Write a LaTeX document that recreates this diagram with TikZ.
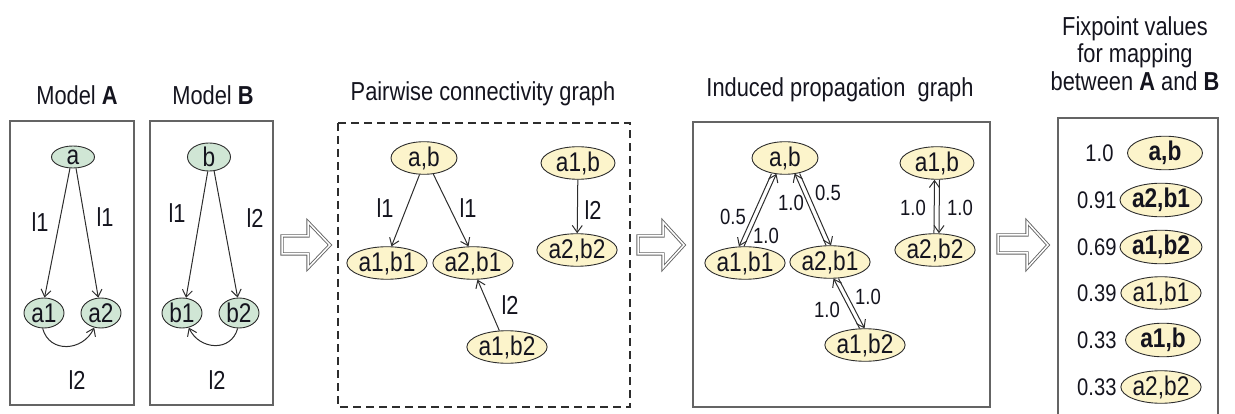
\documentclass[tikz,border=0pt]{standalone}
\usepackage{fontspec}
\setmainfont[FakeStretch=0.84]{Liberation Sans}
\usetikzlibrary{arrows.meta,shapes.geometric}

\definecolor{nodegreen}{RGB}{208,230,213}
\definecolor{nodecream}{RGB}{252,244,203}
\definecolor{framegray}{RGB}{100,100,100}
\definecolor{inkgray}{RGB}{45,45,45}
\definecolor{textink}{RGB}{20,20,30}

\newcommand{\fs}[1]{\fontsize{#1}{#1}\selectfont}

\tikzset{
  x=1pt, y=-1pt,
  frame/.style={draw=framegray, line width=1.3pt},
  dashframe/.style={draw=inkgray, line width=1.3pt, dash pattern=on 8pt off 5pt},
  title/.style={font=\fs{26}, text=textink, anchor=base},
  gnode/.style={ellipse, draw=inkgray, line width=0.9pt, fill=nodegreen,
    inner sep=0pt, minimum width=40pt, minimum height=30pt, font=\fs{27}, text=textink},
  gtop/.style={gnode, minimum width=43pt, minimum height=22pt},
  ynode/.style={ellipse, draw=inkgray, line width=0.9pt, fill=nodecream,
    inner sep=0pt, minimum width=74pt, minimum height=28pt, font=\fs{27}, text=textink},
  ytop/.style={ynode, minimum width=66pt, minimum height=30pt},
  fnode/.style={ellipse, draw=inkgray, line width=0.9pt, fill=nodecream,
    inner sep=0pt, minimum width=75pt, minimum height=24pt, font=\fs{27}, text=textink},
  edge/.style={draw=inkgray, line width=1pt,
    -{Straight Barb[length=7pt,width=10pt]}},
  elabel/.style={font=\fs{26}, text=textink},
  wlabel/.style={font=\fs{22}, text=textink},
  value/.style={font=\fs{24}, text=textink, anchor=east},
  leftlane/.style={transform canvas={xshift=-2.5pt}},
  rightlane/.style={transform canvas={xshift=2.5pt}},
  blockarrow/.style={draw=framegray, line width=0.9pt, double=white,
    double distance=1.5pt, line join=miter},
}

\begin{document}
\begin{tikzpicture}
\useasboundingbox (0,0) rectangle (1235,414);

% ---------- Model A ----------
\node[title] (tA) at (77,105) {Model \textbf{A}};
\draw[frame] (10,121) rectangle (134,405);
\node[gtop] (a)  at (73,157) {a};
\node[gnode] (a1) at (44,313) {a1};
\node[gnode] (a2) at (101,313) {a2};
\draw[edge] (a.-105) -- (a1.88);
\draw[edge] (a.-75) -- (a2.100);
\draw[edge] (a1.-95) to[out=-75,in=-115,looseness=1.3] (a2.-115);
\node[elabel] (lA1) at (40,222) {l1};
\node[elabel] (lA2) at (105,217) {l1};
\node[elabel] (lA3) at (77,380) {l2};

% ---------- Model B ----------
\node[title] (tB) at (213,105) {Model \textbf{B}};
\draw[frame] (150,121) rectangle (273,405);
\node[gtop] (b)  at (209,157) {b};
\node[gnode] (b1) at (182,313) {b1};
\node[gnode] (b2) at (239,313) {b2};
\draw[edge] (b.-95) -- (b1.75);
\draw[edge] (b.-70) -- (b2.95);
\draw[edge] (b2.-95) to[out=-105,in=-65,looseness=1.3] (b1.-65);
\node[elabel] (lB1) at (177,213) {l1};
\node[elabel] (lB2) at (255,218) {l2};
\node[elabel] (lB3) at (217,380) {l2};

% ---------- block arrows ----------
\draw[blockarrow] (282,236) -- (308,236) -- (308,222) -- (330,245)
  -- (308,268) -- (308,254) -- (282,254) -- cycle;
\draw[blockarrow] (638,236) -- (663,236) -- (663,222) -- (684,245)
  -- (663,268) -- (663,254) -- (638,254) -- cycle;
\draw[blockarrow] (998,235) -- (1027,235) -- (1027,222) -- (1048,245)
  -- (1027,268) -- (1027,253) -- (998,253) -- cycle;

% ---------- Pairwise connectivity graph ----------
\node[title] (tP) at (483,101) {Pairwise connectivity graph};
\draw[dashframe] (338,123) rectangle (630,407);
\node[ytop]  (pab)   at (424,158) {a,b};
\node[ynode] (pa1b1) at (387,263) {a1,b1};
\node[ynode] (pa2b1) at (473,263) {a2,b1};
\node[ynode] (pa1b2) at (507,347) {a1,b2};
\node[ynode] (pa1b)  at (578,163) {a1,b};
\node[ynode] (pa2b2) at (577,250) {a2,b2};
\draw[edge] (pab.-105) -- (pa1b1.75);
\draw[edge] (pab.-60) -- (pa2b1.105);
\draw[edge] (pa1b2.115) -- (pa2b1.-75);
\draw[edge] (pa1b) -- (pa2b2);
\node[elabel] (lP1) at (385,208) {l1};
\node[elabel] (lP2) at (468,208) {l1};
\node[elabel] (lP3) at (593,210) {l2};
\node[elabel] (lP4) at (510,305) {l2};

% ---------- Induced propagation graph ----------
\node[title] (tI) at (840,97) {Induced propagation\ \ graph};
\draw[frame] (693,122) rectangle (990,407);
\node[ytop]  (iab)   at (785,158) {a,b};
\node[ynode] (ia1b1) at (745,263) {a1,b1};
\node[ynode] (ia2b1) at (830,262) {a2,b1};
\node[ynode] (ia1b2) at (865,345) {a1,b2};
\node[ynode] (ia1b)  at (937,163) {a1,b};
\node[ynode] (ia2b2) at (935,250) {a2,b2};
\draw[edge, leftlane]  (iab.-125) -- (ia1b1.102);
\draw[edge, rightlane] (ia1b1.102) -- (iab.-125);
\draw[edge, leftlane]  (ia2b1.95) -- (iab.-52);
\draw[edge, rightlane] (iab.-52) -- (ia2b1.95);
\draw[edge, leftlane]  (ia1b2.100) -- (ia2b1.-70);
\draw[edge, rightlane] (ia2b1.-70) -- (ia1b2.100);
\draw[edge, leftlane]  (ia2b2.85) -- (ia1b.-90);
\draw[edge, rightlane] (ia1b.-90) -- (ia2b2.85);
\node[wlabel] (w1) at (733,217) {0.5};
\node[wlabel] (w2) at (766,236) {1.0};
\node[wlabel] (w3) at (791,203) {1.0};
\node[wlabel] (w4) at (828,193) {0.5};
\node[wlabel] (w5) at (827,310) {1.0};
\node[wlabel] (w6) at (868,297) {1.0};
\node[wlabel] (w7) at (913,208) {1.0};
\node[wlabel] (w8) at (960,208) {1.0};

% ---------- Fixpoint values ----------
\node[title] (tF1) at (1135,36) {Fixpoint values};
\node[title] (tF2) at (1135,63) {for mapping};
\node[title] (tF3) at (1135,91) {between \textbf{A} and \textbf{B}};
\draw[frame] (1058,416) -- (1058,118) -- (1218,118) -- (1218,416);
\node[fnode] (fab)   at (1165,153) {\textbf{a,b}};
\node[fnode] (fa2b1) at (1161,200) {\textbf{a2,b1}};
\node[fnode] (fa1b2) at (1161,247) {\textbf{a1,b2}};
\node[fnode] (fa1b1) at (1161,293) {a1,b1};
\node[fnode] (fa1b)  at (1163,340) {\textbf{a1,b}};
\node[fnode] (fa2b2) at (1161,387) {a2,b2};
\node[value] (v1) at (1117,153) {1.0};
\node[value] (v2) at (1120,200) {0.91};
\node[value] (v3) at (1120,247) {0.69};
\node[value] (v4) at (1120,293) {0.39};
\node[value] (v5) at (1120,340) {0.33};
\node[value] (v6) at (1120,387) {0.33};
\end{tikzpicture}
\end{document}
